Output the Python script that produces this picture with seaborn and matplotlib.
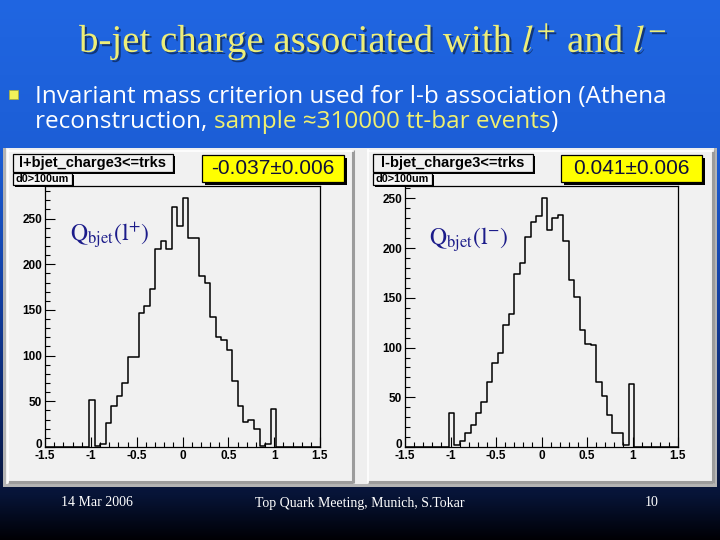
import numpy as np
import pandas as pd
import matplotlib
matplotlib.use("Agg")
import matplotlib.pyplot as plt
import matplotlib.patheffects as pe
import matplotlib.transforms as mtrans
from matplotlib.patches import Rectangle
from matplotlib.ticker import MultipleLocator
import seaborn as sns

# ---------------- data ----------------
bin_range = (-1.5, 1.5)
n_bins = 50
charge_centers = np.round(np.linspace(-1.47, 1.47, n_bins), 2)
counts_lplus = [0] * 8 + [51, 1, 3, 26, 45, 56, 70, 98, 98, 147, 154, 173, 217, 225, 217,
                          263, 242, 272, 229, 229, 187, 179, 142, 120, 117, 106, 72, 45,
                          27, 29, 20, 1, 3, 42] + [0] * 8
counts_lminus = [0] * 8 + [34, 2, 6, 14, 22, 34, 45, 65, 84, 95, 123, 134, 174, 185, 211,
                           226, 232, 250, 218, 230, 233, 207, 168, 151, 118, 104, 103, 65,
                           51, 32, 14, 14, 2, 63] + [0] * 8
x_ticks = [-1.5, -1, -0.5, 0, 0.5, 1, 1.5]
x_tick_labels = ["-1.5", "-1", "-0.5", "0", "0.5", "1", "1.5"]
y_ticks = [0, 50, 100, 150, 200, 250]
hist_titles = ["l+bjet_charge3<=trks", "l-bjet_charge3<=trks"]
cut_label = "d0>100um"
stat_labels = ["-0.037\u00b10.006", "0.041\u00b10.006"]
q_labels = [r"$\mathrm{Q_{bjet}(l^{+})}$", r"$\mathrm{Q_{bjet}(l^{-})}$"]
slide_title = r"b-jet charge associated with $l^{+}$ and $l^{-}$"
bullet_l1 = "Invariant mass criterion used for l-b association (Athena"
bullet_l2a = "reconstruction, "
bullet_l2b = "sample \u2248310000 tt-bar events"
bullet_l2c = ")"
footer = ["14 Mar 2006", "Top Quark Meeting, Munich, S.Tokar", "10"]

# ---------------- figure ----------------
plt.rcParams["mathtext.fontset"] = "stix"
W, H = 720, 540
fig = plt.figure(figsize=(7.2, 5.4), dpi=100)

def fx(x):
    return x / W

def fy(y):
    return 1 - y / H

# background axes (pixel coordinates, y downward)
bg = fig.add_axes([0, 0, 1, 1], zorder=0)
stops_y = [0, 150, 300, 440, 495, 540]
stops_c = np.array([[32, 102, 226], [28, 94, 214], [18, 62, 160],
                    [10, 32, 90], [7, 20, 55], [0, 0, 4]]) / 255.0
yy = np.arange(H) + 0.5
grad = np.stack([np.interp(yy, stops_y, stops_c[:, i]) for i in range(3)], axis=-1)[:, None, :]
bg.imshow(grad, extent=(0, W, H, 0), aspect="auto", interpolation="bilinear")
bg.set_xlim(0, W)
bg.set_ylim(H, 0)
bg.axis("off")

# ROOT canvas and pads
bg.add_patch(Rectangle((3, 148), 714, 339, fc="#b4b4b4", ec="none"))
bg.add_patch(Rectangle((6, 148), 708, 336, fc="#efefef", ec="none"))
for x0, x1 in [(8, 353), (368, 713)]:
    bg.add_patch(Rectangle((x0, 150), x1 - x0, 332, fc="#f1f1f1", ec="none"))
    bg.plot([x1, x1], [150, 483], color="#9c9c9c", lw=2.2, solid_capstyle="butt")
    bg.plot([x0, x1], [482, 482], color="#9c9c9c", lw=2.2, solid_capstyle="butt")
    bg.plot([x0, x0], [150, 482], color="white", lw=1.2)
    bg.plot([x0, x1], [150.5, 150.5], color="white", lw=1.2)

# ---------------- histograms ----------------
def make_axes(l, r, t, b):
    return fig.add_axes([fx(l), fy(b), (r - l) / W, (b - t) / H], zorder=1)

axL = make_axes(45, 320, 186, 447)
axR = make_axes(405, 678, 186, 447)

for ax, counts in [(axL, counts_lplus), (axR, counts_lminus)]:
    df = pd.DataFrame({"q": charge_centers, "n": counts})
    sns.histplot(data=df, x="q", weights="n", bins=n_bins, binrange=bin_range,
                 element="step", fill=False, color="black", linewidth=1.1, ax=ax)
    ax.set_facecolor("#f1f1f1")
    ax.set_xlim(*bin_range)
    ax.set_ylim(0, max(counts) * 1.05)
    ax.set_xlabel("")
    ax.set_ylabel("")
    ax.set_xticks(x_ticks)
    ax.set_xticklabels(x_tick_labels)
    ax.set_yticks(y_ticks)
    ax.xaxis.set_minor_locator(MultipleLocator(0.1))
    ax.yaxis.set_minor_locator(MultipleLocator(10))
    ax.tick_params(which="both", direction="in", top=False, right=False,
                   color="black", width=0.8)
    ax.tick_params(which="major", length=7)
    ax.tick_params(which="minor", length=3.5)
    ax.tick_params(axis="x", pad=2.5)
    ax.tick_params(axis="y", pad=2)
    for lab in ax.get_xticklabels() + ax.get_yticklabels():
        lab.set_fontweight("bold")
        lab.set_fontsize(8.5)
        lab.set_family("Liberation Sans")
    # lift the "0" label slightly, as in the ROOT drawing
    ylabs = ax.get_yticklabels()
    ylabs[0].set_transform(ylabs[0].get_transform() +
                           mtrans.ScaledTranslation(0, 3 / 100, fig.dpi_scale_trans))
    for sp in ax.spines.values():
        sp.set_linewidth(0.9)
        sp.set_color("black")

# ---------------- overlay (texts, boxes) ----------------
ov = fig.add_axes([0, 0, 1, 1], zorder=2)
ov.set_xlim(0, W)
ov.set_ylim(H, 0)
ov.axis("off")
ov.patch.set_alpha(0)

def pave(x0, y0, x1, y1, fc, shadow=3, lw=0.9):
    ov.add_patch(Rectangle((x0 + shadow, y0 + shadow), x1 - x0, y1 - y0, fc="black", ec="none"))
    ov.add_patch(Rectangle((x0, y0), x1 - x0, y1 - y0, fc=fc, ec="black", lw=lw))

for i, off in enumerate([0, 360]):
    # histogram title + cut label
    pave(13 + off, 154, 173 + off, 172, "#f1f1f1", shadow=2)
    ov.text(93 + off, 163.5, hist_titles[i], ha="center", va="center", fontsize=10.5,
            fontweight="bold", family="Liberation Sans", color="black")
    pave(13 + off, 173, 72 + off, 185, "#f8f8f8", shadow=2)
    ov.text(42.5 + off, 179.5, cut_label, ha="center", va="center", fontsize=7.8,
            fontweight="bold", family="Liberation Sans", color="black")

# stat boxes
pave(202, 155, 344, 182, "#ffff00", shadow=3)
ov.text(273, 169, stat_labels[0], ha="center", va="center", fontsize=15,
        family="Liberation Sans", color="#10103a")
pave(561, 155, 702, 182, "#ffff00", shadow=3)
ov.text(631, 169, stat_labels[1], ha="center", va="center", fontsize=15,
        family="Liberation Sans", color="#10103a")

# Q labels
ov.text(110, 236, q_labels[0], ha="center", va="center", fontsize=17, color="#1c1c8a")
ov.text(469, 240, q_labels[1], ha="center", va="center", fontsize=17, color="#1c1c8a")

# slide title
ov.text(373, 42, slide_title, ha="center", va="center", fontsize=28,
        family="Liberation Serif", color="#eeee78",
        path_effects=[pe.withSimplePatchShadow(offset=(1.5, -1.5), shadow_rgbFace="black", alpha=0.45)])

# bullet
bsize = 17.5
ov.add_patch(Rectangle((9, 90), 9, 9, fc="#f2f25a", ec="#b0b030", lw=0.5))
bfont = ["Open Sans", "DejaVu Sans"]
t1 = ov.text(35, 103, bullet_l1, ha="left", va="baseline", fontsize=bsize,
             family=bfont, color="white")
t2a = ov.text(35, 128, bullet_l2a, ha="left", va="baseline", fontsize=bsize,
              family=bfont, color="white")
t2b = ov.annotate(bullet_l2b, xy=(1, fy(128)), xycoords=(t2a, "axes fraction"),
                  ha="left", va="baseline", fontsize=bsize, family=bfont, color="#f0f070")
t2c = ov.annotate(bullet_l2c, xy=(1, fy(128)), xycoords=(t2b, "axes fraction"),
                  ha="left", va="baseline", fontsize=bsize, family=bfont, color="white")

# footer
for xc, txt in zip([97, 360, 652], footer):
    ov.text(xc, 503, txt, ha="center", va="center", fontsize=10,
            family="Liberation Serif", color="white")

fig.savefig("out.png", dpi=100)
